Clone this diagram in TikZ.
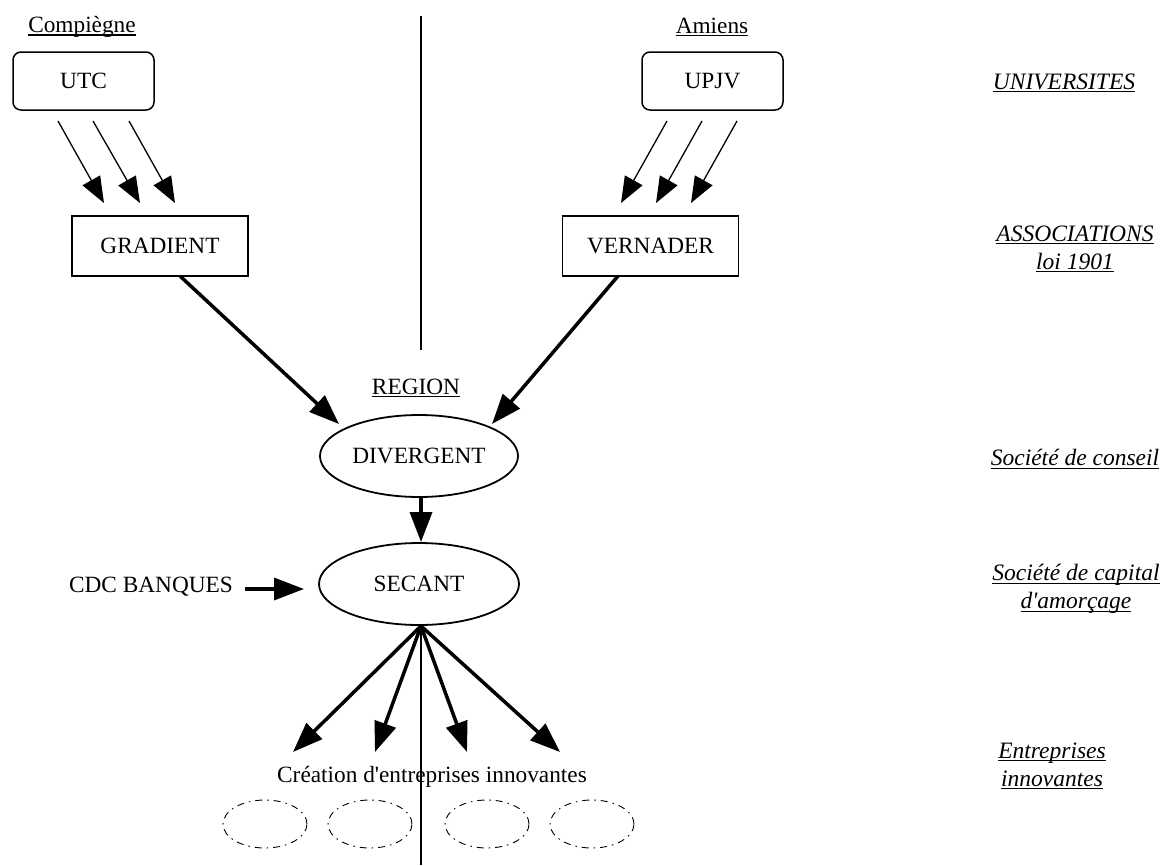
\documentclass[tikz,border=0pt]{standalone}
\usepackage{fontspec}
\setmainfont{Liberation Serif}[Ligatures=TeXOff]
\usetikzlibrary{arrows.meta,shapes.geometric}
\newcommand\myul[1]{\setbox0\hbox{#1}\rlap{\rule[-3pt]{\wd0}{1.1pt}}\box0}
\begin{document}
\begin{tikzpicture}[x=1pt,y=-1pt,
  every node/.style={font=\fontsize{23.3}{28}\selectfont, inner sep=0pt},
  rbox/.style={draw, line width=1.5pt, rounded corners=8pt, minimum width=141pt, minimum height=58pt},
  sbox/.style={draw, line width=1.5pt, minimum width=176pt, minimum height=60pt},
  oval/.style={draw, ellipse, line width=1.8pt, minimum width=198pt, minimum height=82pt},
  ghost/.style={draw, ellipse, line width=0.9pt, minimum width=84pt, minimum height=48pt,
    dash pattern=on 7pt off 5pt on 1.5pt off 5pt},
  thinarr/.style={line width=1.3pt, -{Triangle[length=26pt,width=20pt]}},
  thickarr/.style={line width=3.5pt, -{Triangle[length=30pt,width=22pt]}},
  axis/.style={line width=1.5pt},
  side/.style={align=center, font=\fontsize{23.5}{28}\selectfont\itshape}
]
\useasboundingbox (0,0) rectangle (1162,865);

% dividing line
\coordinate (vt1) at (421,16);
\coordinate (vt2) at (421,350);
\draw[axis] (vt1) -- (vt2);

% top labels
\node (comp) at (82,27) {\myul{Compiègne}};
\node (ami) at (712,27) {\myul{Amiens}};

% universities
\node[rbox] (utc) at (83.5,81) {UTC};
\node[rbox] (upjv) at (712.5,81) {UPJV};

% associations
\node[sbox] (grad) at (160,246) {GRADIENT};
\node[sbox] (vern) at (650.5,246) {VERNADER};

% thin arrows UTC -> GRADIENT
\coordinate (u1) at (58,121);  \coordinate (g1) at (104,203);
\coordinate (u2) at (93,121);  \coordinate (g2) at (140,203);
\coordinate (u3) at (129,121); \coordinate (g3) at (175,203);
\draw[thinarr] (u1) -- (g1);
\draw[thinarr] (u2) -- (g2);
\draw[thinarr] (u3) -- (g3);

% thin arrows UPJV -> VERNADER
\coordinate (p1) at (667,121); \coordinate (v1) at (621,203);
\coordinate (p2) at (702,121); \coordinate (v2) at (656,203);
\coordinate (p3) at (737,121); \coordinate (v3) at (691,203);
\draw[thinarr] (p1) -- (v1);
\draw[thinarr] (p2) -- (v2);
\draw[thinarr] (p3) -- (v3);

% region
\node (reg) at (416,388) {\myul{REGION}};
\node[oval] (div) at (419,456) {DIVERGENT};
\node[oval, minimum width=200pt] (sec) at (419,584) {SECANT};

\coordinate (gs) at (180,276); \coordinate (dl) at (339,424);
\coordinate (vs) at (618,276); \coordinate (dr) at (492,424);
\draw[thickarr] (gs) -- (dl);
\draw[thickarr] (vs) -- (dr);

\coordinate (ds) at (421,496); \coordinate (sn) at (421,542);
\draw[thickarr] (ds) -- (sn);

% CDC
\node (cdc) at (151,587) {CDC BANQUES};
\coordinate (cs) at (245,589); \coordinate (ce) at (304,589);
\draw[thickarr] (cs) -- (ce);

% fan
\coordinate (fo) at (421,626);
\coordinate (f1) at (293,752);
\coordinate (f2) at (375,752);
\coordinate (f3) at (467,752);
\coordinate (f4) at (560,752);
\coordinate (vb) at (421,865);
\draw[axis] (fo) -- (vb);
\draw[thickarr] (fo) -- (f1);
\draw[thickarr] (fo) -- (f2);
\draw[thickarr] (fo) -- (f3);
\draw[thickarr] (fo) -- (f4);

\node (crea) at (432,777) {Création d'entreprises innovantes};

\node[ghost] (e1) at (265,824) {};
\node[ghost] (e2) at (370,824) {};
\node[ghost] (e3) at (487,824) {};
\node[ghost] (e4) at (592,824) {};

% right-hand labels
\node[side] (l1) at (1064,83) {\myul{UNIVERSITES}};
\node[side] (l2) at (1075,249) {\myul{ASSOCIATIONS}\\\myul{loi 1901}};
\node[side] (l3) at (1075,459) {\myul{Société de conseil}};
\node[side] (l4) at (1076,589) {\myul{Société de capital}\\\myul{d'amorçage}};
\node[side] (l5) at (1052,766) {\myul{Entreprises}\\\myul{innovantes}};
\end{tikzpicture}
\end{document}
